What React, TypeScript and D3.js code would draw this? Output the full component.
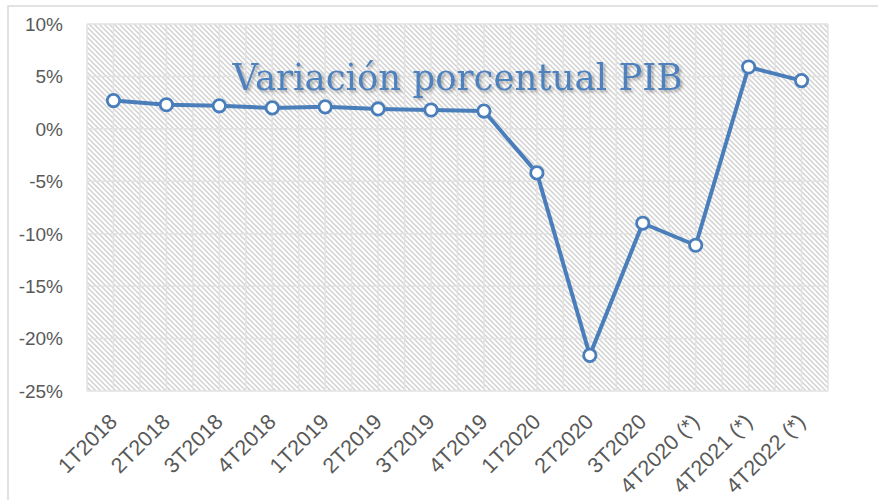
import React from "react";
import * as d3 from "d3";

const categories = [
  "1T2018", "2T2018", "3T2018", "4T2018",
  "1T2019", "2T2019", "3T2019", "4T2019",
  "1T2020", "2T2020", "3T2020",
  "4T2020 (*)", "4T2021 (*)", "4T2022 (*)",
];
const values = [2.7, 2.3, 2.2, 2.0, 2.1, 1.9, 1.8, 1.7, -4.2, -21.6, -9.0, -11.1, 5.9, 4.6];
const yTicks = [10, 5, 0, -5, -10, -15, -20, -25];
const title = "Variación porcentual PIB";

const W = 878;
const H = 500;
const plot = { left: 87, right: 828, top: 24, bottom: 391 };
const blue = "#4a7ebb";
const labelColor = "#595959";
const gridColor = "#e2e2e2";
const font = "'Liberation Sans', Arial, sans-serif";

export default function App() {
  const x = d3.scaleBand<string>().domain(categories).range([plot.left, plot.right]).padding(0);
  const y = d3.scaleLinear().domain([-25, 10]).range([plot.bottom, plot.top]);
  const bw = x.bandwidth();
  const cx = (c: string) => (x(c) as number) + bw / 2;

  const vLines: number[] = [];
  categories.forEach((c) => {
    vLines.push(x(c) as number);
    vLines.push(cx(c));
  });
  vLines.push(plot.right);

  const line = d3
    .line<number>()
    .x((_, i) => cx(categories[i]))
    .y((v) => y(v));

  return (
    <svg
      width={W}
      height={H}
      style={{ position: "absolute", left: 0, top: 0, background: "#fff" }}
    >
      <defs>
        <pattern id="hatch" patternUnits="userSpaceOnUse" width={5} height={5}>
          <rect width={5} height={5} fill="#ffffff" />
          <path d="M0,0 L5,5 M-1,4 L1,6 M4,-1 L6,1" stroke="#d2d2d2" strokeWidth={1.5} />
        </pattern>
        <filter id="shadow" x="-10%" y="-30%" width="120%" height="160%">
          <feDropShadow dx={2} dy={2} stdDeviation={1.5} floodColor="#000" floodOpacity={0.3} />
        </filter>
      </defs>
      <rect x={0} y={0} width={W} height={H} fill="#fff" />
      <rect x={8} y={6} width={W + 20} height={H + 20} fill="#fff" stroke="#d9d9d9" strokeWidth={1.5} />

      <rect
        x={plot.left}
        y={plot.top}
        width={plot.right - plot.left}
        height={plot.bottom - plot.top}
        fill="url(#hatch)"
      />
      {vLines.map((vx, i) => (
        <line key={"v" + i} x1={vx} x2={vx} y1={plot.top} y2={plot.bottom} stroke={gridColor} strokeWidth={1.5} />
      ))}
      {yTicks.map((t) => (
        <line key={"h" + t} x1={plot.left} x2={plot.right} y1={y(t)} y2={y(t)} stroke={gridColor} strokeWidth={1.5} />
      ))}

      {yTicks.map((t) => (
        <text
          key={"yl" + t}
          x={63}
          y={y(t)}
          dy="0.36em"
          textAnchor="end"
          fontFamily={font}
          fontSize={19}
          fill={labelColor}
        >
          {t + "%"}
        </text>
      ))}

      {categories.map((c) => (
        <text
          key={"xl" + c}
          transform={`translate(${cx(c) + 5},${423}) rotate(-45)`}
          textAnchor="end"
          fontFamily={font}
          fontSize={21.5}
          fill={labelColor}
        >
          {c}
        </text>
      ))}

      <text
        x={(plot.left + plot.right) / 2}
        y={90}
        textAnchor="middle"
        fontFamily="'DejaVu Serif', 'Liberation Serif', serif"
        fontSize={38}
        fill="#4f81bd"
        textLength={450}
        lengthAdjust="spacingAndGlyphs"
        filter="url(#shadow)"
      >
        {title}
      </text>

      <path d={line(values) || ""} fill="none" stroke={blue} strokeWidth={4} strokeLinejoin="round" />
      {values.map((v, i) => (
        <circle
          key={"m" + i}
          cx={cx(categories[i])}
          cy={y(v)}
          r={6.2}
          fill="#fff"
          stroke={blue}
          strokeWidth={2.8}
        />
      ))}
    </svg>
  );
}
